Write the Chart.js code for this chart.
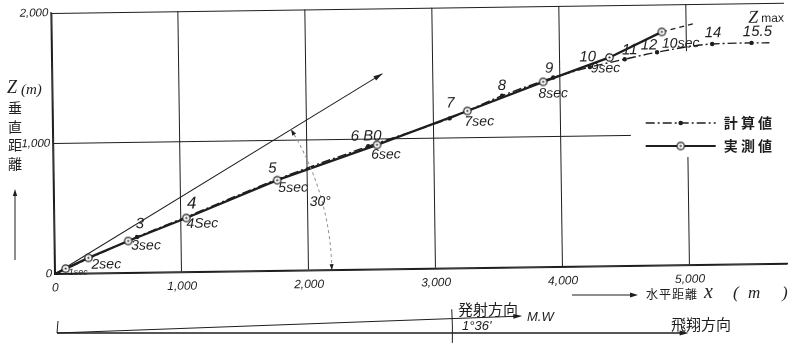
<!DOCTYPE html>
<html>
<head>
<meta charset="utf-8">
<script src="https://cdn.jsdelivr.net/npm/chart.js@4"></script>
<style>
  html, body { margin: 0; padding: 0; background: #fff; }
  #wrap { width: 794px; height: 359px; position: relative; }
</style>
</head>
<body>
<div id="wrap"><canvas id="c" width="794" height="359"></canvas></div>
<script>
// Measured trajectory (実測値): horizontal distance x and height Z in metres, one mark per second
const measuredX = [0, 85, 265, 580, 1040, 1760, 2550, 3265, 3865, 4390, 4805];
const measuredZ = [0, 40, 120, 245, 415, 695, 955, 1205, 1420, 1600, 1790];
const measuredTags = ['', '1sec', '2sec', '3sec', '4Sec', '5sec', '6sec', '7sec', '8sec', '9sec', '10sec'];
// dashed continuation of the measured path after 10 s
const measuredExtX = [4805, 5080];
const measuredExtZ = [1790, 1855];
// Calculated trajectory (計算値), tagged with flight time in seconds (B0 = burn-out)
const calcX = [0, 650, 1045, 1755, 2480, 3125, 3540, 3945, 4235, 4510, 4765, 5200, 5510, 5650];
const calcZ = [0, 275, 425, 700, 945, 1150, 1318, 1452, 1528, 1585, 1635, 1692, 1696, 1695];
const calcTags = ['', '3', '4', '5', '6 B0', '7', '8', '9', '10', '11', '12', '14', '15.5', ''];
// 30° launch direction line
const launchX = [0, 2600];
const launchZ = [0, 1500];
// axis ticks
const xTicks = [0, 1000, 2000, 3000, 4000, 5000];
const zTicks = [0, 1000, 2000];

const INK = '#1e1e1e';
const NUM_FONT = '"Liberation Sans", "DejaVu Sans", sans-serif';
const SERIF = '"Liberation Serif", "DejaVu Serif", serif';
const CJK = '"Noto Sans CJK JP", "Noto Sans CJK SC", sans-serif';
// the drafted frame leans slightly (about 0.8°) about its origin
const LEAN = 0.8 * Math.PI / 180;

// label placement around each tagged mark (pixels)
const calcTagOffset = {
  '3': [3, -13], '4': [5, -13], '5': [-4, -11], '6 B0': [-2, -10], '7': [1, -15], '8': [0, -10],
  '9': [-4, -9], '10': [-2, -10], '11': [5, -9], '12': [-8, -7], '14': [1, -11], '15.5': [6, -11]
};
const measuredTagOffset = {
  '1sec': [3, 4], '2sec': [3, 7], '3sec': [3, 5], '4Sec': [0, 6], '5sec': [1, 8], '6sec': [-6, 10],
  '7sec': [-3, 11], '8sec': [-5, 12], '9sec': [-19, 11], '10sec': [0, 12]
};

const toPoints = (xs, zs) => xs.map((x, i) => ({ x, y: zs[i] }));
const fmt = v => v === 0 ? '0' : Number(v).toLocaleString('en-US');

// ⊙ marker used for measured points
function ringMarker() {
  const c = document.createElement('canvas');
  c.width = 11; c.height = 11;
  const g = c.getContext('2d');
  g.fillStyle = '#fff'; g.strokeStyle = INK; g.lineWidth = 1.2;
  g.beginPath(); g.arc(5.5, 5.5, 3.7, 0, Math.PI * 2); g.fill(); g.stroke();
  g.fillStyle = INK;
  g.beginPath(); g.arc(5.5, 5.5, 1.1, 0, Math.PI * 2); g.fill();
  return c;
}
const RING = ringMarker();

function arrowHead(g, x1, y1, x2, y2, len = 8, half = 2.8) {
  const a = Math.atan2(y2 - y1, x2 - x1);
  g.beginPath();
  g.moveTo(x2, y2);
  g.lineTo(x2 - len * Math.cos(a) + half * Math.sin(a), y2 - len * Math.sin(a) - half * Math.cos(a));
  g.lineTo(x2 - len * Math.cos(a) - half * Math.sin(a), y2 - len * Math.sin(a) + half * Math.cos(a));
  g.closePath();
  g.fill();
}

// tilts scales, grid and marks together about the origin
const lean = {
  id: 'lean',
  beforeDraw(chart) {
    const { ctx, scales: { x, y } } = chart;
    const ox = x.getPixelForValue(0), oy = y.getPixelForValue(0);
    ctx.save();
    ctx.translate(ox, oy);
    ctx.rotate(-LEAN);
    ctx.translate(-ox, -oy);
  },
  afterDraw(chart) {
    chart.ctx.restore();
  }
};

// keeps the grid clear behind the key
const keyBackdrop = {
  id: 'keyBackdrop',
  beforeDatasetsDraw(chart) {
    const { ctx, chartArea, scales: { x, y } } = chart;
    const left = x.getPixelForValue(4550);
    const top = y.getPixelForValue(1640);
    const bottom = y.getPixelForValue(830);
    ctx.save();
    ctx.fillStyle = '#fff';
    ctx.fillRect(left, top, chartArea.right - left + 6, bottom - top);
    ctx.restore();
  }
};

// point tags, launch arrow and 30° arc
const markNotes = {
  id: 'markNotes',
  afterDatasetsDraw(chart) {
    const { ctx, scales: { x } } = chart;
    ctx.save();
    ctx.fillStyle = INK; ctx.strokeStyle = INK;

    // launch direction arrow + angle arc
    const lm = chart.getDatasetMeta(3).data;
    const p0 = lm[0], p1 = lm[lm.length - 1];
    arrowHead(ctx, p0.x, p0.y, p1.x, p1.y, 9, 2.6);
    const a = Math.atan2(p1.y - p0.y, p1.x - p0.x);
    const r = x.getPixelForValue(2180) - p0.x;
    ctx.save();
    ctx.strokeStyle = '#8f8f8f'; ctx.lineWidth = 1; ctx.setLineDash([3, 3]);
    ctx.beginPath(); ctx.arc(p0.x, p0.y, r, a, 0); ctx.stroke();
    ctx.restore();
    const pa = t => [p0.x + r * Math.cos(t), p0.y + r * Math.sin(t)];
    let [ax1, ay1] = pa(a + 0.035), [ax2, ay2] = pa(a);
    arrowHead(ctx, ax1, ay1, ax2, ay2, 6, 2.2);
    [ax1, ay1] = pa(-0.035); [ax2, ay2] = pa(0);
    arrowHead(ctx, ax1, ay1, ax2, ay2, 6, 2);
    const tx = p0.x + (r - 2) * Math.cos(a * 0.47), ty = p0.y + (r - 2) * Math.sin(a * 0.47);
    ctx.font = 'italic 14px ' + NUM_FONT;
    ctx.textAlign = 'center'; ctx.textBaseline = 'middle';
    ctx.fillText('30°', tx, ty);

    // calculated tags
    const cm = chart.getDatasetMeta(1).data;
    calcTags.forEach((t, i) => {
      if (!t) return;
      const [dx, dy] = calcTagOffset[t] || [0, -10];
      ctx.font = (t === '4' ? 'italic 17px ' : 'italic 15px ') + NUM_FONT;
      ctx.fillText(t, cm[i].x + dx, cm[i].y + dy);
    });
    // Z max above the last tag
    const zm = cm[calcTags.indexOf('15.5')];
    ctx.font = 'italic 18px ' + SERIF;
    ctx.fillText('Z', zm.x + 2, zm.y - 25);
    ctx.font = '12px ' + NUM_FONT;
    ctx.textAlign = 'left';
    ctx.fillText('max', zm.x + 10, zm.y - 24);

    // measured tags
    const mm = chart.getDatasetMeta(0).data;
    measuredTags.forEach((t, i) => {
      if (!t) return;
      const [dx, dy] = measuredTagOffset[t] || [0, 10];
      ctx.font = (t === '1sec' ? 'italic 9px ' : 'italic 14px ') + NUM_FONT;
      ctx.fillText(t, mm[i].x + dx, mm[i].y + dy);
    });
    ctx.restore();
  }
};

// key, axis titles and the launch / flight direction sketch
const frameNotes = {
  id: 'frameNotes',
  afterDraw(chart) {
    const { ctx, chartArea, scales: { x } } = chart;
    ctx.save();
    ctx.fillStyle = INK; ctx.strokeStyle = INK;

    // key
    const R = chartArea.right;
    const r1 = 123, r2 = 146;
    ctx.lineWidth = 1.4;
    ctx.setLineDash([9, 3, 2, 3]);
    ctx.beginPath(); ctx.moveTo(R - 142, r1); ctx.lineTo(R - 72, r1); ctx.stroke();
    ctx.setLineDash([]);
    ctx.beginPath(); ctx.arc(R - 107, r1, 2.3, 0, Math.PI * 2); ctx.fill();
    ctx.lineWidth = 1.8;
    ctx.beginPath(); ctx.moveTo(R - 142, r2); ctx.lineTo(R - 72, r2); ctx.stroke();
    ctx.drawImage(RING, R - 107 - 5.5, r2 - 5.5);
    ctx.font = 'bold 14px ' + CJK;
    ctx.textAlign = 'left'; ctx.textBaseline = 'middle';
    ctx.fillText('計 算 値', R - 64, r1);
    ctx.fillText('実 測 値', R - 64, r2);

    // Z axis title
    ctx.font = 'italic 18px ' + SERIF;
    ctx.fillText('Z', 7, 88);
    ctx.font = 'italic 15px ' + SERIF;
    ctx.fillText('(m)', 21, 90);
    ctx.font = '14px ' + CJK;
    ctx.textAlign = 'center';
    ['垂', '直', '距', '離'].forEach((ch, i) => ctx.fillText(ch, 15, 108 + i * 18.5));
    ctx.lineWidth = 1;
    ctx.beginPath(); ctx.moveTo(15, 260); ctx.lineTo(15, 192); ctx.stroke();
    arrowHead(ctx, 15, 260, 15, 189, 7, 2.2);

    // x axis title
    const yb = 295;
    ctx.beginPath(); ctx.moveTo(572, yb); ctx.lineTo(633, yb); ctx.stroke();
    arrowHead(ctx, 572, yb, 638, yb, 8, 2.5);
    ctx.textAlign = 'left';
    ctx.font = '12px ' + CJK;
    ['水', '平', '距', '離'].forEach((ch, i) => ctx.fillText(ch, 646 + i * 13, yb - 1));
    ctx.font = 'italic 20px ' + SERIF;
    ctx.fillText('x', 704, yb - 2);
    ctx.font = 'italic 17px ' + SERIF;
    ctx.fillText('(', 733, yb - 1);
    ctx.fillText('m', 748, yb - 1);
    ctx.fillText(')', 782, yb - 1);

    // launch / flight direction sketch below the axis
    const ox = x.getPixelForValue(0) + 2, oy = 333;
    const fx = x.getPixelForValue(4990);
    const lx = x.getPixelForValue(3680), ly = 316;
    ctx.lineWidth = 1.3;
    ctx.beginPath(); ctx.moveTo(ox, oy); ctx.lineTo(fx - 6, oy); ctx.stroke();
    arrowHead(ctx, ox, oy, fx, oy, 9, 2.6);
    ctx.lineWidth = 1.1;
    ctx.beginPath(); ctx.moveTo(ox, oy); ctx.lineTo(lx - 6, ly + 0.2); ctx.stroke();
    arrowHead(ctx, ox, oy, lx, ly, 9, 2.4);
    ctx.lineWidth = 1;
    ctx.beginPath(); ctx.moveTo(ox, oy); ctx.lineTo(ox + 1, oy - 12); ctx.stroke();
    // angle arc between the two directions
    const rr = x.getPixelForValue(3130) - ox;
    ctx.beginPath(); ctx.arc(ox, oy, rr, -0.06, 0.025); ctx.stroke();
    ctx.font = '15px ' + CJK;
    ctx.fillText('発射方向', 458, 309);
    ctx.font = 'italic 13px ' + NUM_FONT;
    ctx.fillText('M.W', 527, 317);
    ctx.fillText('1°36\'', 462, 326);
    ctx.font = '15px ' + CJK;
    ctx.fillText('飛翔方向', 671, 324);
    ctx.restore();
  }
};

const ctx = document.getElementById('c').getContext('2d');
new Chart(ctx, {
  type: 'line',
  data: {
    datasets: [
      {
        label: '実測値',
        data: toPoints(measuredX, measuredZ),
        borderColor: INK, borderWidth: 2.3,
        pointStyle: c => c.dataIndex === 0 ? 'circle' : RING,
        pointRadius: c => c.dataIndex === 0 ? 0 : 4,
        clip: false
      },
      {
        label: '計算値',
        data: toPoints(calcX, calcZ),
        borderColor: INK, borderWidth: 1.4, borderDash: [9, 3, 2, 3],
        cubicInterpolationMode: 'monotone',
        pointRadius: c => calcTags[c.dataIndex] ? 2.2 : 0,
        pointBackgroundColor: INK, pointBorderWidth: 0,
        clip: false
      },
      {
        label: '実測値 (延長)',
        data: toPoints(measuredExtX, measuredExtZ),
        borderColor: INK, borderWidth: 1.4, borderDash: [5, 4],
        pointRadius: 0, clip: false
      },
      {
        label: '発射方向 30°',
        data: toPoints(launchX, launchZ),
        borderColor: INK, borderWidth: 1,
        pointRadius: 0, clip: false
      }
    ]
  },
  options: {
    responsive: false,
    animation: false,
    devicePixelRatio: 1,
    layout: { padding: { top: 13, right: 0, left: 0, bottom: 0 } },
    plugins: { legend: { display: false }, tooltip: { enabled: false } },
    scales: {
      x: {
        type: 'linear', min: 0, max: 5770,
        afterBuildTicks: s => { s.ticks = xTicks.map(v => ({ value: v })); },
        afterFit: s => { s.height = 85; },
        grid: { color: INK, lineWidth: 1, drawTicks: false },
        border: { color: INK, width: 1.3 },
        ticks: {
          padding: 7, color: INK, autoSkip: false, maxRotation: 0,
          font: { family: NUM_FONT, size: 12, style: 'italic' },
          callback: fmt
        }
      },
      y: {
        type: 'linear', min: 0, max: 2000,
        afterBuildTicks: s => { s.ticks = zTicks.map(v => ({ value: v })); },
        afterFit: s => { s.width = 55; },
        grid: { color: INK, lineWidth: 1, drawTicks: false },
        border: { color: INK, width: 1.3 },
        ticks: {
          padding: 3, color: INK,
          font: { family: NUM_FONT, size: 11.5, style: 'italic' },
          callback: fmt
        }
      }
    }
  },
  plugins: [lean, keyBackdrop, markNotes, frameNotes]
});
</script>
</body>
</html>
